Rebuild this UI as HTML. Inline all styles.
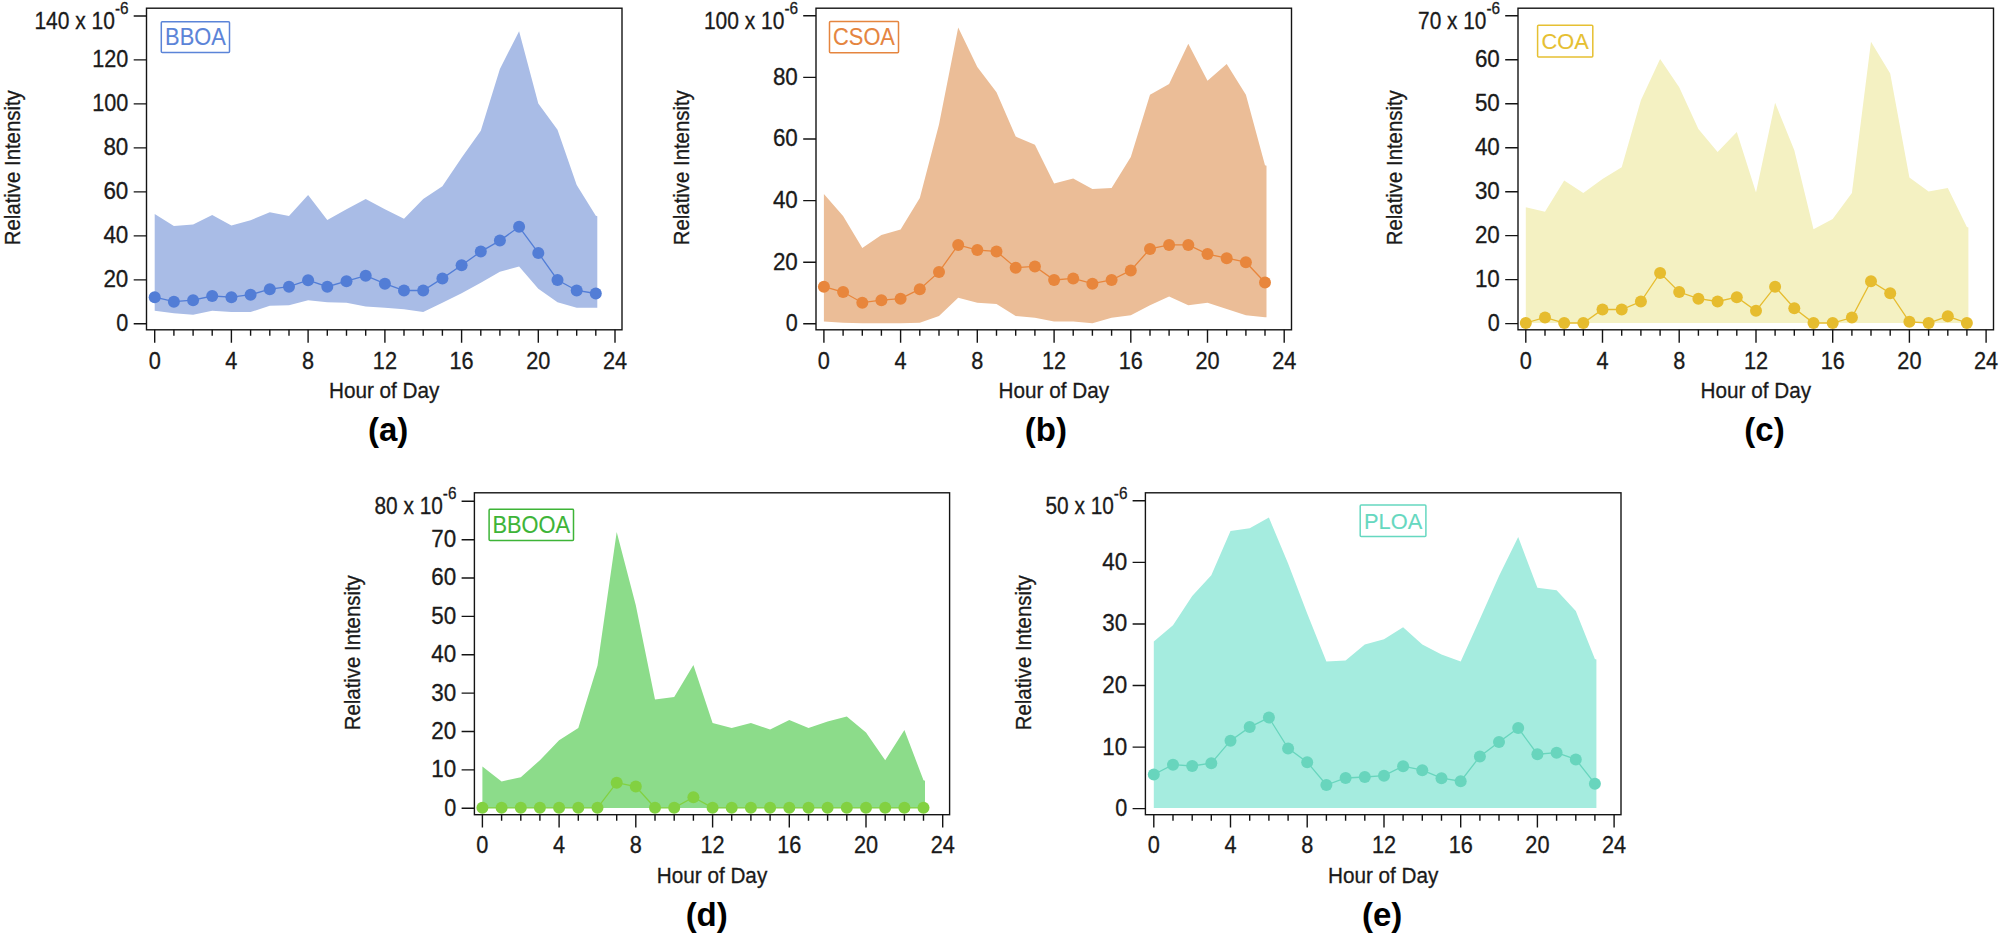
<!DOCTYPE html>
<html lang="en"><head><meta charset="utf-8"><title>Diurnal profiles</title>
<style>
html,body{margin:0;padding:0;background:#fff;}
body{width:2000px;height:934px;overflow:hidden;}
svg{display:block;font-family:'Liberation Sans', sans-serif;}
</style></head><body>
<svg width="2000" height="934" viewBox="0 0 2000 934">
<rect width="2000" height="934" fill="#fff"/>
<polygon points="154.7,214.0 173.9,225.9 193.1,224.6 212.2,215.0 231.4,225.6 250.6,220.2 269.8,212.2 289.0,215.9 308.1,195.0 327.3,220.0 346.5,209.2 365.7,199.0 384.9,209.2 404.0,218.8 423.2,199.0 442.4,186.2 461.6,157.8 480.8,130.8 499.9,68.9 519.1,31.3 538.3,103.5 557.5,129.8 576.7,184.9 595.8,215.8 597.3,216.3 597.3,307.8 595.8,307.8 576.7,307.8 557.5,302.2 538.3,288.7 519.1,266.4 499.9,271.7 480.8,282.7 461.6,293.2 442.4,302.7 423.2,312.0 404.0,309.3 384.9,307.8 365.7,306.5 346.5,302.7 327.3,302.2 308.1,300.2 289.0,305.3 269.8,305.8 250.6,312.0 231.4,312.0 212.2,310.8 193.1,314.8 173.9,313.3 154.7,310.8" fill="#a9bce6"/>
<polyline points="154.7,297.2 173.9,301.7 193.1,300.2 212.2,296.0 231.4,297.2 250.6,294.7 269.8,289.2 289.0,286.7 308.1,280.2 327.3,286.7 346.5,281.2 365.7,275.7 384.9,283.7 404.0,290.5 423.2,290.5 442.4,278.4 461.6,265.2 480.8,251.6 499.9,240.6 519.1,226.8 538.3,252.9 557.5,280.0 576.7,290.5 595.8,293.5" fill="none" stroke="#527dd6" stroke-width="1.3"/>
<circle cx="154.7" cy="297.2" r="6" fill="#527dd6"/>
<circle cx="173.9" cy="301.7" r="6" fill="#527dd6"/>
<circle cx="193.1" cy="300.2" r="6" fill="#527dd6"/>
<circle cx="212.2" cy="296.0" r="6" fill="#527dd6"/>
<circle cx="231.4" cy="297.2" r="6" fill="#527dd6"/>
<circle cx="250.6" cy="294.7" r="6" fill="#527dd6"/>
<circle cx="269.8" cy="289.2" r="6" fill="#527dd6"/>
<circle cx="289.0" cy="286.7" r="6" fill="#527dd6"/>
<circle cx="308.1" cy="280.2" r="6" fill="#527dd6"/>
<circle cx="327.3" cy="286.7" r="6" fill="#527dd6"/>
<circle cx="346.5" cy="281.2" r="6" fill="#527dd6"/>
<circle cx="365.7" cy="275.7" r="6" fill="#527dd6"/>
<circle cx="384.9" cy="283.7" r="6" fill="#527dd6"/>
<circle cx="404.0" cy="290.5" r="6" fill="#527dd6"/>
<circle cx="423.2" cy="290.5" r="6" fill="#527dd6"/>
<circle cx="442.4" cy="278.4" r="6" fill="#527dd6"/>
<circle cx="461.6" cy="265.2" r="6" fill="#527dd6"/>
<circle cx="480.8" cy="251.6" r="6" fill="#527dd6"/>
<circle cx="499.9" cy="240.6" r="6" fill="#527dd6"/>
<circle cx="519.1" cy="226.8" r="6" fill="#527dd6"/>
<circle cx="538.3" cy="252.9" r="6" fill="#527dd6"/>
<circle cx="557.5" cy="280.0" r="6" fill="#527dd6"/>
<circle cx="576.7" cy="290.5" r="6" fill="#527dd6"/>
<circle cx="595.8" cy="293.5" r="6" fill="#527dd6"/>
<rect x="146.5" y="8.2" width="475.5" height="321.6" fill="none" stroke="#141414" stroke-width="1.4"/>
<path d="M154.7 329.8v12.9M173.9 329.8v6.0M193.1 329.8v6.0M212.2 329.8v6.0M231.4 329.8v12.9M250.6 329.8v6.0M269.8 329.8v6.0M289.0 329.8v6.0M308.1 329.8v12.9M327.3 329.8v6.0M346.5 329.8v6.0M365.7 329.8v6.0M384.9 329.8v12.9M404.0 329.8v6.0M423.2 329.8v6.0M442.4 329.8v6.0M461.6 329.8v12.9M480.8 329.8v6.0M499.9 329.8v6.0M519.1 329.8v6.0M538.3 329.8v12.9M557.5 329.8v6.0M576.7 329.8v6.0M595.8 329.8v6.0M615.0 329.8v12.9M146.5 323.8h-12.8M146.5 279.9h-12.8M146.5 235.9h-12.8M146.5 191.9h-12.8M146.5 147.9h-12.8M146.5 103.9h-12.8M146.5 59.9h-12.8M146.5 16.0h-12.8" stroke="#141414" stroke-width="1.4" fill="none"/>
<text x="154.7" y="368.5" font-size="23.00" text-anchor="middle" fill="#1a1a1a" textLength="12.07" lengthAdjust="spacingAndGlyphs" stroke="#1a1a1a" stroke-width="0.3">0</text>
<text x="231.4" y="368.5" font-size="23.00" text-anchor="middle" fill="#1a1a1a" textLength="12.07" lengthAdjust="spacingAndGlyphs" stroke="#1a1a1a" stroke-width="0.3">4</text>
<text x="308.1" y="368.5" font-size="23.00" text-anchor="middle" fill="#1a1a1a" textLength="12.07" lengthAdjust="spacingAndGlyphs" stroke="#1a1a1a" stroke-width="0.3">8</text>
<text x="384.9" y="368.5" font-size="23.00" text-anchor="middle" fill="#1a1a1a" textLength="24.14" lengthAdjust="spacingAndGlyphs" stroke="#1a1a1a" stroke-width="0.3">12</text>
<text x="461.6" y="368.5" font-size="23.00" text-anchor="middle" fill="#1a1a1a" textLength="24.14" lengthAdjust="spacingAndGlyphs" stroke="#1a1a1a" stroke-width="0.3">16</text>
<text x="538.3" y="368.5" font-size="23.00" text-anchor="middle" fill="#1a1a1a" textLength="24.14" lengthAdjust="spacingAndGlyphs" stroke="#1a1a1a" stroke-width="0.3">20</text>
<text x="615.0" y="368.5" font-size="23.00" text-anchor="middle" fill="#1a1a1a" textLength="24.14" lengthAdjust="spacingAndGlyphs" stroke="#1a1a1a" stroke-width="0.3">24</text>
<text x="384.2" y="398.4" font-size="22.60" text-anchor="middle" fill="#1a1a1a" textLength="110.50" lengthAdjust="spacingAndGlyphs" stroke="#1a1a1a" stroke-width="0.3">Hour of Day</text>
<text x="128.3" y="331.2" font-size="23.00" text-anchor="end" fill="#1a1a1a" textLength="12.01" lengthAdjust="spacingAndGlyphs" stroke="#1a1a1a" stroke-width="0.3">0</text>
<text x="128.3" y="287.3" font-size="23.00" text-anchor="end" fill="#1a1a1a" textLength="24.92" lengthAdjust="spacingAndGlyphs" stroke="#1a1a1a" stroke-width="0.3">20</text>
<text x="128.3" y="243.3" font-size="23.00" text-anchor="end" fill="#1a1a1a" textLength="24.92" lengthAdjust="spacingAndGlyphs" stroke="#1a1a1a" stroke-width="0.3">40</text>
<text x="128.3" y="199.3" font-size="23.00" text-anchor="end" fill="#1a1a1a" textLength="24.92" lengthAdjust="spacingAndGlyphs" stroke="#1a1a1a" stroke-width="0.3">60</text>
<text x="128.3" y="155.3" font-size="23.00" text-anchor="end" fill="#1a1a1a" textLength="24.92" lengthAdjust="spacingAndGlyphs" stroke="#1a1a1a" stroke-width="0.3">80</text>
<text x="128.3" y="111.3" font-size="23.00" text-anchor="end" fill="#1a1a1a" textLength="36.04" lengthAdjust="spacingAndGlyphs" stroke="#1a1a1a" stroke-width="0.3">100</text>
<text x="128.3" y="67.3" font-size="23.00" text-anchor="end" fill="#1a1a1a" textLength="36.04" lengthAdjust="spacingAndGlyphs" stroke="#1a1a1a" stroke-width="0.3">120</text>
<text x="128.5" y="13.8" font-size="16.83" text-anchor="end" fill="#1a1a1a" textLength="13.61" lengthAdjust="spacingAndGlyphs" stroke="#1a1a1a" stroke-width="0.3">-6</text>
<text x="114.9" y="28.9" font-size="23.00" text-anchor="end" fill="#1a1a1a" textLength="80.50" lengthAdjust="spacingAndGlyphs" stroke="#1a1a1a" stroke-width="0.3">140 x 10</text>
<text x="0" y="0" transform="translate(20.0 245.2) rotate(-90)" font-size="21.70" text-anchor="start" fill="#1a1a1a" textLength="155.00" lengthAdjust="spacingAndGlyphs" stroke="#1a1a1a" stroke-width="0.3">Relative Intensity</text>
<rect x="161.3" y="21.7" width="68.2" height="30.8" fill="#fff" stroke="#5b84d8" stroke-width="1.5" rx="1"/>
<text x="195.4" y="44.9" font-size="23.54" text-anchor="middle" fill="#5b84d8" textLength="60.58" lengthAdjust="spacingAndGlyphs" stroke="#5b84d8" stroke-width="0.12">BBOA</text>
<text x="388.2" y="441.1" font-size="33.00" text-anchor="middle" fill="#000" font-weight="bold" textLength="40.33" lengthAdjust="spacingAndGlyphs">(a)</text>
<polygon points="823.9,194.0 843.1,216.1 862.3,248.1 881.4,235.1 900.6,229.6 919.8,198.0 939.0,124.5 958.2,27.6 977.3,67.1 996.5,92.2 1015.7,136.5 1034.9,144.8 1054.1,183.6 1073.2,178.6 1092.4,189.1 1111.6,187.9 1130.8,157.0 1150.0,94.7 1169.1,83.9 1188.3,43.8 1207.5,80.7 1226.7,63.9 1245.9,94.7 1265.0,165.3 1266.5,165.8 1266.5,317.3 1265.0,317.3 1245.9,315.3 1226.7,309.0 1207.5,302.7 1188.3,305.3 1169.1,296.5 1150.0,305.3 1130.8,315.3 1111.6,317.8 1092.4,323.3 1073.2,321.5 1054.1,321.5 1034.9,317.8 1015.7,316.0 996.5,304.0 977.3,302.7 958.2,297.7 939.0,316.0 919.8,322.8 900.6,323.3 881.4,323.3 862.3,323.3 843.1,322.8 823.9,321.5" fill="#ebbd97"/>
<polyline points="823.9,286.7 843.1,292.0 862.3,302.7 881.4,300.2 900.6,298.7 919.8,289.2 939.0,271.9 958.2,244.9 977.3,250.1 996.5,251.4 1015.7,267.7 1034.9,266.4 1054.1,280.0 1073.2,278.4 1092.4,283.7 1111.6,280.0 1130.8,270.4 1150.0,248.9 1169.1,244.9 1188.3,244.9 1207.5,254.1 1226.7,258.2 1245.9,262.2 1265.0,282.5" fill="none" stroke="#e8863c" stroke-width="1.3"/>
<circle cx="823.9" cy="286.7" r="6" fill="#e8863c"/>
<circle cx="843.1" cy="292.0" r="6" fill="#e8863c"/>
<circle cx="862.3" cy="302.7" r="6" fill="#e8863c"/>
<circle cx="881.4" cy="300.2" r="6" fill="#e8863c"/>
<circle cx="900.6" cy="298.7" r="6" fill="#e8863c"/>
<circle cx="919.8" cy="289.2" r="6" fill="#e8863c"/>
<circle cx="939.0" cy="271.9" r="6" fill="#e8863c"/>
<circle cx="958.2" cy="244.9" r="6" fill="#e8863c"/>
<circle cx="977.3" cy="250.1" r="6" fill="#e8863c"/>
<circle cx="996.5" cy="251.4" r="6" fill="#e8863c"/>
<circle cx="1015.7" cy="267.7" r="6" fill="#e8863c"/>
<circle cx="1034.9" cy="266.4" r="6" fill="#e8863c"/>
<circle cx="1054.1" cy="280.0" r="6" fill="#e8863c"/>
<circle cx="1073.2" cy="278.4" r="6" fill="#e8863c"/>
<circle cx="1092.4" cy="283.7" r="6" fill="#e8863c"/>
<circle cx="1111.6" cy="280.0" r="6" fill="#e8863c"/>
<circle cx="1130.8" cy="270.4" r="6" fill="#e8863c"/>
<circle cx="1150.0" cy="248.9" r="6" fill="#e8863c"/>
<circle cx="1169.1" cy="244.9" r="6" fill="#e8863c"/>
<circle cx="1188.3" cy="244.9" r="6" fill="#e8863c"/>
<circle cx="1207.5" cy="254.1" r="6" fill="#e8863c"/>
<circle cx="1226.7" cy="258.2" r="6" fill="#e8863c"/>
<circle cx="1245.9" cy="262.2" r="6" fill="#e8863c"/>
<circle cx="1265.0" cy="282.5" r="6" fill="#e8863c"/>
<rect x="816.0" y="8.2" width="475.5" height="321.6" fill="none" stroke="#141414" stroke-width="1.4"/>
<path d="M823.9 329.8v12.9M843.1 329.8v6.0M862.3 329.8v6.0M881.4 329.8v6.0M900.6 329.8v12.9M919.8 329.8v6.0M939.0 329.8v6.0M958.2 329.8v6.0M977.3 329.8v12.9M996.5 329.8v6.0M1015.7 329.8v6.0M1034.9 329.8v6.0M1054.1 329.8v12.9M1073.2 329.8v6.0M1092.4 329.8v6.0M1111.6 329.8v6.0M1130.8 329.8v12.9M1150.0 329.8v6.0M1169.1 329.8v6.0M1188.3 329.8v6.0M1207.5 329.8v12.9M1226.7 329.8v6.0M1245.9 329.8v6.0M1265.0 329.8v6.0M1284.2 329.8v12.9M816.0 323.8h-12.8M816.0 262.2h-12.8M816.0 200.6h-12.8M816.0 139.0h-12.8M816.0 77.4h-12.8M816.0 15.8h-12.8" stroke="#141414" stroke-width="1.4" fill="none"/>
<text x="823.9" y="368.5" font-size="23.00" text-anchor="middle" fill="#1a1a1a" textLength="12.07" lengthAdjust="spacingAndGlyphs" stroke="#1a1a1a" stroke-width="0.3">0</text>
<text x="900.6" y="368.5" font-size="23.00" text-anchor="middle" fill="#1a1a1a" textLength="12.07" lengthAdjust="spacingAndGlyphs" stroke="#1a1a1a" stroke-width="0.3">4</text>
<text x="977.3" y="368.5" font-size="23.00" text-anchor="middle" fill="#1a1a1a" textLength="12.07" lengthAdjust="spacingAndGlyphs" stroke="#1a1a1a" stroke-width="0.3">8</text>
<text x="1054.1" y="368.5" font-size="23.00" text-anchor="middle" fill="#1a1a1a" textLength="24.14" lengthAdjust="spacingAndGlyphs" stroke="#1a1a1a" stroke-width="0.3">12</text>
<text x="1130.8" y="368.5" font-size="23.00" text-anchor="middle" fill="#1a1a1a" textLength="24.14" lengthAdjust="spacingAndGlyphs" stroke="#1a1a1a" stroke-width="0.3">16</text>
<text x="1207.5" y="368.5" font-size="23.00" text-anchor="middle" fill="#1a1a1a" textLength="24.14" lengthAdjust="spacingAndGlyphs" stroke="#1a1a1a" stroke-width="0.3">20</text>
<text x="1284.2" y="368.5" font-size="23.00" text-anchor="middle" fill="#1a1a1a" textLength="24.14" lengthAdjust="spacingAndGlyphs" stroke="#1a1a1a" stroke-width="0.3">24</text>
<text x="1053.8" y="398.4" font-size="22.60" text-anchor="middle" fill="#1a1a1a" textLength="110.50" lengthAdjust="spacingAndGlyphs" stroke="#1a1a1a" stroke-width="0.3">Hour of Day</text>
<text x="797.8" y="331.2" font-size="23.00" text-anchor="end" fill="#1a1a1a" textLength="12.01" lengthAdjust="spacingAndGlyphs" stroke="#1a1a1a" stroke-width="0.3">0</text>
<text x="797.8" y="269.6" font-size="23.00" text-anchor="end" fill="#1a1a1a" textLength="24.92" lengthAdjust="spacingAndGlyphs" stroke="#1a1a1a" stroke-width="0.3">20</text>
<text x="797.8" y="208.0" font-size="23.00" text-anchor="end" fill="#1a1a1a" textLength="24.92" lengthAdjust="spacingAndGlyphs" stroke="#1a1a1a" stroke-width="0.3">40</text>
<text x="797.8" y="146.4" font-size="23.00" text-anchor="end" fill="#1a1a1a" textLength="24.92" lengthAdjust="spacingAndGlyphs" stroke="#1a1a1a" stroke-width="0.3">60</text>
<text x="797.8" y="84.8" font-size="23.00" text-anchor="end" fill="#1a1a1a" textLength="24.92" lengthAdjust="spacingAndGlyphs" stroke="#1a1a1a" stroke-width="0.3">80</text>
<text x="798.0" y="13.6" font-size="16.83" text-anchor="end" fill="#1a1a1a" textLength="13.61" lengthAdjust="spacingAndGlyphs" stroke="#1a1a1a" stroke-width="0.3">-6</text>
<text x="784.4" y="28.7" font-size="23.00" text-anchor="end" fill="#1a1a1a" textLength="80.50" lengthAdjust="spacingAndGlyphs" stroke="#1a1a1a" stroke-width="0.3">100 x 10</text>
<text x="0" y="0" transform="translate(688.6 245.2) rotate(-90)" font-size="21.70" text-anchor="start" fill="#1a1a1a" textLength="155.00" lengthAdjust="spacingAndGlyphs" stroke="#1a1a1a" stroke-width="0.3">Relative Intensity</text>
<rect x="829.5" y="21.6" width="69.0" height="31.1" fill="#fff" stroke="#e5853f" stroke-width="1.5" rx="1"/>
<text x="864.0" y="45.1" font-size="23.54" text-anchor="middle" fill="#e5853f" textLength="61.78" lengthAdjust="spacingAndGlyphs" stroke="#e5853f" stroke-width="0.12">CSOA</text>
<text x="1045.9" y="441.1" font-size="33.00" text-anchor="middle" fill="#000" font-weight="bold" textLength="42.14" lengthAdjust="spacingAndGlyphs">(b)</text>
<polygon points="1525.8,207.3 1545.0,211.7 1564.2,180.4 1583.3,192.9 1602.5,179.1 1621.7,167.3 1640.9,100.2 1660.1,58.9 1679.2,87.2 1698.4,129.0 1717.6,152.1 1736.8,132.0 1756.0,192.4 1775.1,102.7 1794.3,150.3 1813.5,229.2 1832.7,219.0 1851.9,192.9 1871.0,41.8 1890.2,73.4 1909.4,177.4 1928.6,191.6 1947.8,187.9 1966.9,227.0 1968.4,227.5 1968.4,322.9 1966.9,322.9 1947.8,322.9 1928.6,322.9 1909.4,322.9 1890.2,322.9 1871.0,322.9 1851.9,322.9 1832.7,322.9 1813.5,322.9 1794.3,322.9 1775.1,322.9 1756.0,322.9 1736.8,322.9 1717.6,322.9 1698.4,322.9 1679.2,322.9 1660.1,322.9 1640.9,322.9 1621.7,322.9 1602.5,322.9 1583.3,322.9 1564.2,322.9 1545.0,322.9 1525.8,322.9" fill="#f4f1c2"/>
<polyline points="1525.8,323.0 1545.0,317.5 1564.2,323.0 1583.3,323.0 1602.5,309.5 1621.7,309.5 1640.9,301.5 1660.1,272.9 1679.2,292.0 1698.4,298.7 1717.6,301.5 1736.8,297.2 1756.0,310.8 1775.1,286.7 1794.3,308.3 1813.5,323.0 1832.7,323.0 1851.9,317.5 1871.0,281.2 1890.2,293.2 1909.4,321.8 1928.6,323.0 1947.8,316.3 1966.9,323.0" fill="none" stroke="#e6bc2e" stroke-width="1.3"/>
<circle cx="1525.8" cy="323.0" r="6" fill="#e6bc2e"/>
<circle cx="1545.0" cy="317.5" r="6" fill="#e6bc2e"/>
<circle cx="1564.2" cy="323.0" r="6" fill="#e6bc2e"/>
<circle cx="1583.3" cy="323.0" r="6" fill="#e6bc2e"/>
<circle cx="1602.5" cy="309.5" r="6" fill="#e6bc2e"/>
<circle cx="1621.7" cy="309.5" r="6" fill="#e6bc2e"/>
<circle cx="1640.9" cy="301.5" r="6" fill="#e6bc2e"/>
<circle cx="1660.1" cy="272.9" r="6" fill="#e6bc2e"/>
<circle cx="1679.2" cy="292.0" r="6" fill="#e6bc2e"/>
<circle cx="1698.4" cy="298.7" r="6" fill="#e6bc2e"/>
<circle cx="1717.6" cy="301.5" r="6" fill="#e6bc2e"/>
<circle cx="1736.8" cy="297.2" r="6" fill="#e6bc2e"/>
<circle cx="1756.0" cy="310.8" r="6" fill="#e6bc2e"/>
<circle cx="1775.1" cy="286.7" r="6" fill="#e6bc2e"/>
<circle cx="1794.3" cy="308.3" r="6" fill="#e6bc2e"/>
<circle cx="1813.5" cy="323.0" r="6" fill="#e6bc2e"/>
<circle cx="1832.7" cy="323.0" r="6" fill="#e6bc2e"/>
<circle cx="1851.9" cy="317.5" r="6" fill="#e6bc2e"/>
<circle cx="1871.0" cy="281.2" r="6" fill="#e6bc2e"/>
<circle cx="1890.2" cy="293.2" r="6" fill="#e6bc2e"/>
<circle cx="1909.4" cy="321.8" r="6" fill="#e6bc2e"/>
<circle cx="1928.6" cy="323.0" r="6" fill="#e6bc2e"/>
<circle cx="1947.8" cy="316.3" r="6" fill="#e6bc2e"/>
<circle cx="1966.9" cy="323.0" r="6" fill="#e6bc2e"/>
<rect x="1518.0" y="8.2" width="475.5" height="321.6" fill="none" stroke="#141414" stroke-width="1.4"/>
<path d="M1525.8 329.8v12.9M1545.0 329.8v6.0M1564.2 329.8v6.0M1583.3 329.8v6.0M1602.5 329.8v12.9M1621.7 329.8v6.0M1640.9 329.8v6.0M1660.1 329.8v6.0M1679.2 329.8v12.9M1698.4 329.8v6.0M1717.6 329.8v6.0M1736.8 329.8v6.0M1756.0 329.8v12.9M1775.1 329.8v6.0M1794.3 329.8v6.0M1813.5 329.8v6.0M1832.7 329.8v12.9M1851.9 329.8v6.0M1871.0 329.8v6.0M1890.2 329.8v6.0M1909.4 329.8v12.9M1928.6 329.8v6.0M1947.8 329.8v6.0M1966.9 329.8v6.0M1986.1 329.8v12.9M1518.0 323.6h-12.8M1518.0 279.6h-12.8M1518.0 235.6h-12.8M1518.0 191.7h-12.8M1518.0 147.7h-12.8M1518.0 103.7h-12.8M1518.0 59.7h-12.8M1518.0 15.8h-12.8" stroke="#141414" stroke-width="1.4" fill="none"/>
<text x="1525.8" y="368.5" font-size="23.00" text-anchor="middle" fill="#1a1a1a" textLength="12.07" lengthAdjust="spacingAndGlyphs" stroke="#1a1a1a" stroke-width="0.3">0</text>
<text x="1602.5" y="368.5" font-size="23.00" text-anchor="middle" fill="#1a1a1a" textLength="12.07" lengthAdjust="spacingAndGlyphs" stroke="#1a1a1a" stroke-width="0.3">4</text>
<text x="1679.2" y="368.5" font-size="23.00" text-anchor="middle" fill="#1a1a1a" textLength="12.07" lengthAdjust="spacingAndGlyphs" stroke="#1a1a1a" stroke-width="0.3">8</text>
<text x="1756.0" y="368.5" font-size="23.00" text-anchor="middle" fill="#1a1a1a" textLength="24.14" lengthAdjust="spacingAndGlyphs" stroke="#1a1a1a" stroke-width="0.3">12</text>
<text x="1832.7" y="368.5" font-size="23.00" text-anchor="middle" fill="#1a1a1a" textLength="24.14" lengthAdjust="spacingAndGlyphs" stroke="#1a1a1a" stroke-width="0.3">16</text>
<text x="1909.4" y="368.5" font-size="23.00" text-anchor="middle" fill="#1a1a1a" textLength="24.14" lengthAdjust="spacingAndGlyphs" stroke="#1a1a1a" stroke-width="0.3">20</text>
<text x="1986.1" y="368.5" font-size="23.00" text-anchor="middle" fill="#1a1a1a" textLength="24.14" lengthAdjust="spacingAndGlyphs" stroke="#1a1a1a" stroke-width="0.3">24</text>
<text x="1755.8" y="398.4" font-size="22.60" text-anchor="middle" fill="#1a1a1a" textLength="110.50" lengthAdjust="spacingAndGlyphs" stroke="#1a1a1a" stroke-width="0.3">Hour of Day</text>
<text x="1499.8" y="331.0" font-size="23.00" text-anchor="end" fill="#1a1a1a" textLength="12.01" lengthAdjust="spacingAndGlyphs" stroke="#1a1a1a" stroke-width="0.3">0</text>
<text x="1499.8" y="287.0" font-size="23.00" text-anchor="end" fill="#1a1a1a" textLength="24.92" lengthAdjust="spacingAndGlyphs" stroke="#1a1a1a" stroke-width="0.3">10</text>
<text x="1499.8" y="243.0" font-size="23.00" text-anchor="end" fill="#1a1a1a" textLength="24.92" lengthAdjust="spacingAndGlyphs" stroke="#1a1a1a" stroke-width="0.3">20</text>
<text x="1499.8" y="199.1" font-size="23.00" text-anchor="end" fill="#1a1a1a" textLength="24.92" lengthAdjust="spacingAndGlyphs" stroke="#1a1a1a" stroke-width="0.3">30</text>
<text x="1499.8" y="155.1" font-size="23.00" text-anchor="end" fill="#1a1a1a" textLength="24.92" lengthAdjust="spacingAndGlyphs" stroke="#1a1a1a" stroke-width="0.3">40</text>
<text x="1499.8" y="111.1" font-size="23.00" text-anchor="end" fill="#1a1a1a" textLength="24.92" lengthAdjust="spacingAndGlyphs" stroke="#1a1a1a" stroke-width="0.3">50</text>
<text x="1499.8" y="67.1" font-size="23.00" text-anchor="end" fill="#1a1a1a" textLength="24.92" lengthAdjust="spacingAndGlyphs" stroke="#1a1a1a" stroke-width="0.3">60</text>
<text x="1500.0" y="13.6" font-size="16.83" text-anchor="end" fill="#1a1a1a" textLength="13.61" lengthAdjust="spacingAndGlyphs" stroke="#1a1a1a" stroke-width="0.3">-6</text>
<text x="1486.4" y="28.7" font-size="23.00" text-anchor="end" fill="#1a1a1a" textLength="68.30" lengthAdjust="spacingAndGlyphs" stroke="#1a1a1a" stroke-width="0.3">70 x 10</text>
<text x="0" y="0" transform="translate(1402.4 245.2) rotate(-90)" font-size="21.70" text-anchor="start" fill="#1a1a1a" textLength="155.00" lengthAdjust="spacingAndGlyphs" stroke="#1a1a1a" stroke-width="0.3">Relative Intensity</text>
<rect x="1537.6" y="25.2" width="55.2" height="31.8" fill="#fff" stroke="#e6c032" stroke-width="1.5" rx="1"/>
<text x="1565.2" y="49.4" font-size="21.80" text-anchor="middle" fill="#e6c032" textLength="47.24" lengthAdjust="spacingAndGlyphs" stroke="#e6c032" stroke-width="0.12">COA</text>
<text x="1764.5" y="441.1" font-size="33.00" text-anchor="middle" fill="#000" font-weight="bold" textLength="40.33" lengthAdjust="spacingAndGlyphs">(c)</text>
<polygon points="482.4,766.5 501.6,781.5 520.8,777.2 539.9,760.2 559.1,740.2 578.3,728.1 597.5,665.4 616.7,531.9 635.8,605.3 655.0,699.6 674.2,697.1 693.4,665.0 712.6,723.1 731.7,728.1 750.9,723.1 770.1,729.4 789.3,720.1 808.5,728.1 827.6,721.4 846.8,716.4 866.0,732.6 885.2,760.2 904.4,730.1 923.5,780.2 925.0,780.7 925.0,807.9 923.5,807.9 904.4,807.9 885.2,807.9 866.0,807.9 846.8,807.9 827.6,807.9 808.5,807.9 789.3,807.9 770.1,807.9 750.9,807.9 731.7,807.9 712.6,807.9 693.4,807.9 674.2,807.9 655.0,807.9 635.8,807.9 616.7,807.9 597.5,807.9 578.3,807.9 559.1,807.9 539.9,807.9 520.8,807.9 501.6,807.9 482.4,807.9" fill="#8cdc8a"/>
<polyline points="482.4,807.8 501.6,807.8 520.8,807.8 539.9,807.8 559.1,807.8 578.3,807.8 597.5,807.8 616.7,782.7 635.8,786.5 655.0,807.8 674.2,807.8 693.4,797.3 712.6,807.8 731.7,807.8 750.9,807.8 770.1,807.8 789.3,807.8 808.5,807.8 827.6,807.8 846.8,807.8 866.0,807.8 885.2,807.8 904.4,807.8 923.5,807.8" fill="none" stroke="#82d141" stroke-width="1.3"/>
<circle cx="482.4" cy="807.8" r="6" fill="#82d141"/>
<circle cx="501.6" cy="807.8" r="6" fill="#82d141"/>
<circle cx="520.8" cy="807.8" r="6" fill="#82d141"/>
<circle cx="539.9" cy="807.8" r="6" fill="#82d141"/>
<circle cx="559.1" cy="807.8" r="6" fill="#82d141"/>
<circle cx="578.3" cy="807.8" r="6" fill="#82d141"/>
<circle cx="597.5" cy="807.8" r="6" fill="#82d141"/>
<circle cx="616.7" cy="782.7" r="6" fill="#82d141"/>
<circle cx="635.8" cy="786.5" r="6" fill="#82d141"/>
<circle cx="655.0" cy="807.8" r="6" fill="#82d141"/>
<circle cx="674.2" cy="807.8" r="6" fill="#82d141"/>
<circle cx="693.4" cy="797.3" r="6" fill="#82d141"/>
<circle cx="712.6" cy="807.8" r="6" fill="#82d141"/>
<circle cx="731.7" cy="807.8" r="6" fill="#82d141"/>
<circle cx="750.9" cy="807.8" r="6" fill="#82d141"/>
<circle cx="770.1" cy="807.8" r="6" fill="#82d141"/>
<circle cx="789.3" cy="807.8" r="6" fill="#82d141"/>
<circle cx="808.5" cy="807.8" r="6" fill="#82d141"/>
<circle cx="827.6" cy="807.8" r="6" fill="#82d141"/>
<circle cx="846.8" cy="807.8" r="6" fill="#82d141"/>
<circle cx="866.0" cy="807.8" r="6" fill="#82d141"/>
<circle cx="885.2" cy="807.8" r="6" fill="#82d141"/>
<circle cx="904.4" cy="807.8" r="6" fill="#82d141"/>
<circle cx="923.5" cy="807.8" r="6" fill="#82d141"/>
<rect x="474.4" y="492.8" width="475.2" height="321.9" fill="none" stroke="#141414" stroke-width="1.4"/>
<path d="M482.4 814.7v12.9M501.6 814.7v6.0M520.8 814.7v6.0M539.9 814.7v6.0M559.1 814.7v12.9M578.3 814.7v6.0M597.5 814.7v6.0M616.7 814.7v6.0M635.8 814.7v12.9M655.0 814.7v6.0M674.2 814.7v6.0M693.4 814.7v6.0M712.6 814.7v12.9M731.7 814.7v6.0M750.9 814.7v6.0M770.1 814.7v6.0M789.3 814.7v12.9M808.5 814.7v6.0M827.6 814.7v6.0M846.8 814.7v6.0M866.0 814.7v12.9M885.2 814.7v6.0M904.4 814.7v6.0M923.5 814.7v6.0M942.7 814.7v12.9M474.4 808.2h-12.8M474.4 769.9h-12.8M474.4 731.5h-12.8M474.4 693.1h-12.8M474.4 654.8h-12.8M474.4 616.4h-12.8M474.4 578.0h-12.8M474.4 539.7h-12.8M474.4 501.3h-12.8" stroke="#141414" stroke-width="1.4" fill="none"/>
<text x="482.4" y="853.4" font-size="23.00" text-anchor="middle" fill="#1a1a1a" textLength="12.07" lengthAdjust="spacingAndGlyphs" stroke="#1a1a1a" stroke-width="0.3">0</text>
<text x="559.1" y="853.4" font-size="23.00" text-anchor="middle" fill="#1a1a1a" textLength="12.07" lengthAdjust="spacingAndGlyphs" stroke="#1a1a1a" stroke-width="0.3">4</text>
<text x="635.8" y="853.4" font-size="23.00" text-anchor="middle" fill="#1a1a1a" textLength="12.07" lengthAdjust="spacingAndGlyphs" stroke="#1a1a1a" stroke-width="0.3">8</text>
<text x="712.6" y="853.4" font-size="23.00" text-anchor="middle" fill="#1a1a1a" textLength="24.14" lengthAdjust="spacingAndGlyphs" stroke="#1a1a1a" stroke-width="0.3">12</text>
<text x="789.3" y="853.4" font-size="23.00" text-anchor="middle" fill="#1a1a1a" textLength="24.14" lengthAdjust="spacingAndGlyphs" stroke="#1a1a1a" stroke-width="0.3">16</text>
<text x="866.0" y="853.4" font-size="23.00" text-anchor="middle" fill="#1a1a1a" textLength="24.14" lengthAdjust="spacingAndGlyphs" stroke="#1a1a1a" stroke-width="0.3">20</text>
<text x="942.7" y="853.4" font-size="23.00" text-anchor="middle" fill="#1a1a1a" textLength="24.14" lengthAdjust="spacingAndGlyphs" stroke="#1a1a1a" stroke-width="0.3">24</text>
<text x="712.0" y="883.3" font-size="22.60" text-anchor="middle" fill="#1a1a1a" textLength="110.50" lengthAdjust="spacingAndGlyphs" stroke="#1a1a1a" stroke-width="0.3">Hour of Day</text>
<text x="456.2" y="815.6" font-size="23.00" text-anchor="end" fill="#1a1a1a" textLength="12.01" lengthAdjust="spacingAndGlyphs" stroke="#1a1a1a" stroke-width="0.3">0</text>
<text x="456.2" y="777.3" font-size="23.00" text-anchor="end" fill="#1a1a1a" textLength="24.92" lengthAdjust="spacingAndGlyphs" stroke="#1a1a1a" stroke-width="0.3">10</text>
<text x="456.2" y="738.9" font-size="23.00" text-anchor="end" fill="#1a1a1a" textLength="24.92" lengthAdjust="spacingAndGlyphs" stroke="#1a1a1a" stroke-width="0.3">20</text>
<text x="456.2" y="700.5" font-size="23.00" text-anchor="end" fill="#1a1a1a" textLength="24.92" lengthAdjust="spacingAndGlyphs" stroke="#1a1a1a" stroke-width="0.3">30</text>
<text x="456.2" y="662.2" font-size="23.00" text-anchor="end" fill="#1a1a1a" textLength="24.92" lengthAdjust="spacingAndGlyphs" stroke="#1a1a1a" stroke-width="0.3">40</text>
<text x="456.2" y="623.8" font-size="23.00" text-anchor="end" fill="#1a1a1a" textLength="24.92" lengthAdjust="spacingAndGlyphs" stroke="#1a1a1a" stroke-width="0.3">50</text>
<text x="456.2" y="585.4" font-size="23.00" text-anchor="end" fill="#1a1a1a" textLength="24.92" lengthAdjust="spacingAndGlyphs" stroke="#1a1a1a" stroke-width="0.3">60</text>
<text x="456.2" y="547.1" font-size="23.00" text-anchor="end" fill="#1a1a1a" textLength="24.92" lengthAdjust="spacingAndGlyphs" stroke="#1a1a1a" stroke-width="0.3">70</text>
<text x="456.4" y="499.1" font-size="16.83" text-anchor="end" fill="#1a1a1a" textLength="13.61" lengthAdjust="spacingAndGlyphs" stroke="#1a1a1a" stroke-width="0.3">-6</text>
<text x="442.8" y="514.2" font-size="23.00" text-anchor="end" fill="#1a1a1a" textLength="68.30" lengthAdjust="spacingAndGlyphs" stroke="#1a1a1a" stroke-width="0.3">80 x 10</text>
<text x="0" y="0" transform="translate(360.3 730.2) rotate(-90)" font-size="21.70" text-anchor="start" fill="#1a1a1a" textLength="155.00" lengthAdjust="spacingAndGlyphs" stroke="#1a1a1a" stroke-width="0.3">Relative Intensity</text>
<rect x="489.1" y="509.3" width="84.4" height="31.3" fill="#fff" stroke="#3db437" stroke-width="1.5" rx="1"/>
<text x="531.3" y="533.0" font-size="23.54" text-anchor="middle" fill="#3db437" textLength="77.54" lengthAdjust="spacingAndGlyphs" stroke="#3db437" stroke-width="0.12">BBOOA</text>
<text x="706.7" y="926.0" font-size="33.00" text-anchor="middle" fill="#000" font-weight="bold" textLength="42.14" lengthAdjust="spacingAndGlyphs">(d)</text>
<polygon points="1153.8,641.6 1173.0,625.3 1192.2,596.0 1211.3,575.2 1230.5,530.9 1249.7,528.2 1268.9,517.6 1288.1,563.5 1307.2,613.5 1326.4,661.6 1345.6,660.4 1364.8,644.6 1384.0,639.3 1403.1,627.3 1422.3,644.6 1441.5,654.6 1460.7,661.6 1479.9,619.0 1499.0,576.0 1518.2,537.1 1537.4,587.7 1556.6,590.2 1575.8,611.0 1594.9,659.1 1596.4,659.6 1596.4,808.1 1594.9,808.1 1575.8,808.1 1556.6,808.1 1537.4,808.1 1518.2,808.1 1499.0,808.1 1479.9,808.1 1460.7,808.1 1441.5,808.1 1422.3,808.1 1403.1,808.1 1384.0,808.1 1364.8,808.1 1345.6,808.1 1326.4,808.1 1307.2,808.1 1288.1,808.1 1268.9,808.1 1249.7,808.1 1230.5,808.1 1211.3,808.1 1192.2,808.1 1173.0,808.1 1153.8,808.1" fill="#a5ecdf"/>
<polyline points="1153.8,774.5 1173.0,764.7 1192.2,766.0 1211.3,763.2 1230.5,740.7 1249.7,727.1 1268.9,717.6 1288.1,748.4 1307.2,762.2 1326.4,785.0 1345.6,778.0 1364.8,777.0 1384.0,775.7 1403.1,766.2 1422.3,770.2 1441.5,778.2 1460.7,781.2 1479.9,756.4 1499.0,741.9 1518.2,728.1 1537.4,754.2 1556.6,752.7 1575.8,759.4 1594.9,783.7" fill="none" stroke="#68d5bd" stroke-width="1.3"/>
<circle cx="1153.8" cy="774.5" r="6" fill="#68d5bd"/>
<circle cx="1173.0" cy="764.7" r="6" fill="#68d5bd"/>
<circle cx="1192.2" cy="766.0" r="6" fill="#68d5bd"/>
<circle cx="1211.3" cy="763.2" r="6" fill="#68d5bd"/>
<circle cx="1230.5" cy="740.7" r="6" fill="#68d5bd"/>
<circle cx="1249.7" cy="727.1" r="6" fill="#68d5bd"/>
<circle cx="1268.9" cy="717.6" r="6" fill="#68d5bd"/>
<circle cx="1288.1" cy="748.4" r="6" fill="#68d5bd"/>
<circle cx="1307.2" cy="762.2" r="6" fill="#68d5bd"/>
<circle cx="1326.4" cy="785.0" r="6" fill="#68d5bd"/>
<circle cx="1345.6" cy="778.0" r="6" fill="#68d5bd"/>
<circle cx="1364.8" cy="777.0" r="6" fill="#68d5bd"/>
<circle cx="1384.0" cy="775.7" r="6" fill="#68d5bd"/>
<circle cx="1403.1" cy="766.2" r="6" fill="#68d5bd"/>
<circle cx="1422.3" cy="770.2" r="6" fill="#68d5bd"/>
<circle cx="1441.5" cy="778.2" r="6" fill="#68d5bd"/>
<circle cx="1460.7" cy="781.2" r="6" fill="#68d5bd"/>
<circle cx="1479.9" cy="756.4" r="6" fill="#68d5bd"/>
<circle cx="1499.0" cy="741.9" r="6" fill="#68d5bd"/>
<circle cx="1518.2" cy="728.1" r="6" fill="#68d5bd"/>
<circle cx="1537.4" cy="754.2" r="6" fill="#68d5bd"/>
<circle cx="1556.6" cy="752.7" r="6" fill="#68d5bd"/>
<circle cx="1575.8" cy="759.4" r="6" fill="#68d5bd"/>
<circle cx="1594.9" cy="783.7" r="6" fill="#68d5bd"/>
<rect x="1145.4" y="492.8" width="475.6" height="321.9" fill="none" stroke="#141414" stroke-width="1.4"/>
<path d="M1153.8 814.7v12.9M1173.0 814.7v6.0M1192.2 814.7v6.0M1211.3 814.7v6.0M1230.5 814.7v12.9M1249.7 814.7v6.0M1268.9 814.7v6.0M1288.1 814.7v6.0M1307.2 814.7v12.9M1326.4 814.7v6.0M1345.6 814.7v6.0M1364.8 814.7v6.0M1384.0 814.7v12.9M1403.1 814.7v6.0M1422.3 814.7v6.0M1441.5 814.7v6.0M1460.7 814.7v12.9M1479.9 814.7v6.0M1499.0 814.7v6.0M1518.2 814.7v6.0M1537.4 814.7v12.9M1556.6 814.7v6.0M1575.8 814.7v6.0M1594.9 814.7v6.0M1614.1 814.7v12.9M1145.4 808.6h-12.8M1145.4 747.1h-12.8M1145.4 685.5h-12.8M1145.4 624.0h-12.8M1145.4 562.4h-12.8M1145.4 500.8h-12.8" stroke="#141414" stroke-width="1.4" fill="none"/>
<text x="1153.8" y="853.4" font-size="23.00" text-anchor="middle" fill="#1a1a1a" textLength="12.07" lengthAdjust="spacingAndGlyphs" stroke="#1a1a1a" stroke-width="0.3">0</text>
<text x="1230.5" y="853.4" font-size="23.00" text-anchor="middle" fill="#1a1a1a" textLength="12.07" lengthAdjust="spacingAndGlyphs" stroke="#1a1a1a" stroke-width="0.3">4</text>
<text x="1307.2" y="853.4" font-size="23.00" text-anchor="middle" fill="#1a1a1a" textLength="12.07" lengthAdjust="spacingAndGlyphs" stroke="#1a1a1a" stroke-width="0.3">8</text>
<text x="1384.0" y="853.4" font-size="23.00" text-anchor="middle" fill="#1a1a1a" textLength="24.14" lengthAdjust="spacingAndGlyphs" stroke="#1a1a1a" stroke-width="0.3">12</text>
<text x="1460.7" y="853.4" font-size="23.00" text-anchor="middle" fill="#1a1a1a" textLength="24.14" lengthAdjust="spacingAndGlyphs" stroke="#1a1a1a" stroke-width="0.3">16</text>
<text x="1537.4" y="853.4" font-size="23.00" text-anchor="middle" fill="#1a1a1a" textLength="24.14" lengthAdjust="spacingAndGlyphs" stroke="#1a1a1a" stroke-width="0.3">20</text>
<text x="1614.1" y="853.4" font-size="23.00" text-anchor="middle" fill="#1a1a1a" textLength="24.14" lengthAdjust="spacingAndGlyphs" stroke="#1a1a1a" stroke-width="0.3">24</text>
<text x="1383.2" y="883.3" font-size="22.60" text-anchor="middle" fill="#1a1a1a" textLength="110.50" lengthAdjust="spacingAndGlyphs" stroke="#1a1a1a" stroke-width="0.3">Hour of Day</text>
<text x="1127.2" y="816.0" font-size="23.00" text-anchor="end" fill="#1a1a1a" textLength="12.01" lengthAdjust="spacingAndGlyphs" stroke="#1a1a1a" stroke-width="0.3">0</text>
<text x="1127.2" y="754.5" font-size="23.00" text-anchor="end" fill="#1a1a1a" textLength="24.92" lengthAdjust="spacingAndGlyphs" stroke="#1a1a1a" stroke-width="0.3">10</text>
<text x="1127.2" y="692.9" font-size="23.00" text-anchor="end" fill="#1a1a1a" textLength="24.92" lengthAdjust="spacingAndGlyphs" stroke="#1a1a1a" stroke-width="0.3">20</text>
<text x="1127.2" y="631.4" font-size="23.00" text-anchor="end" fill="#1a1a1a" textLength="24.92" lengthAdjust="spacingAndGlyphs" stroke="#1a1a1a" stroke-width="0.3">30</text>
<text x="1127.2" y="569.8" font-size="23.00" text-anchor="end" fill="#1a1a1a" textLength="24.92" lengthAdjust="spacingAndGlyphs" stroke="#1a1a1a" stroke-width="0.3">40</text>
<text x="1127.4" y="498.6" font-size="16.83" text-anchor="end" fill="#1a1a1a" textLength="13.61" lengthAdjust="spacingAndGlyphs" stroke="#1a1a1a" stroke-width="0.3">-6</text>
<text x="1113.8" y="513.7" font-size="23.00" text-anchor="end" fill="#1a1a1a" textLength="68.30" lengthAdjust="spacingAndGlyphs" stroke="#1a1a1a" stroke-width="0.3">50 x 10</text>
<text x="0" y="0" transform="translate(1031.0 730.2) rotate(-90)" font-size="21.70" text-anchor="start" fill="#1a1a1a" textLength="155.00" lengthAdjust="spacingAndGlyphs" stroke="#1a1a1a" stroke-width="0.3">Relative Intensity</text>
<rect x="1360.2" y="505.0" width="65.7" height="31.6" fill="#fff" stroke="#66d8c0" stroke-width="1.5" rx="1"/>
<text x="1393.1" y="529.0" font-size="22.45" text-anchor="middle" fill="#66d8c0" textLength="58.16" lengthAdjust="spacingAndGlyphs" stroke="#66d8c0" stroke-width="0.12">PLOA</text>
<text x="1382.2" y="926.0" font-size="33.00" text-anchor="middle" fill="#000" font-weight="bold" textLength="40.33" lengthAdjust="spacingAndGlyphs">(e)</text>
</svg>
</body></html>
